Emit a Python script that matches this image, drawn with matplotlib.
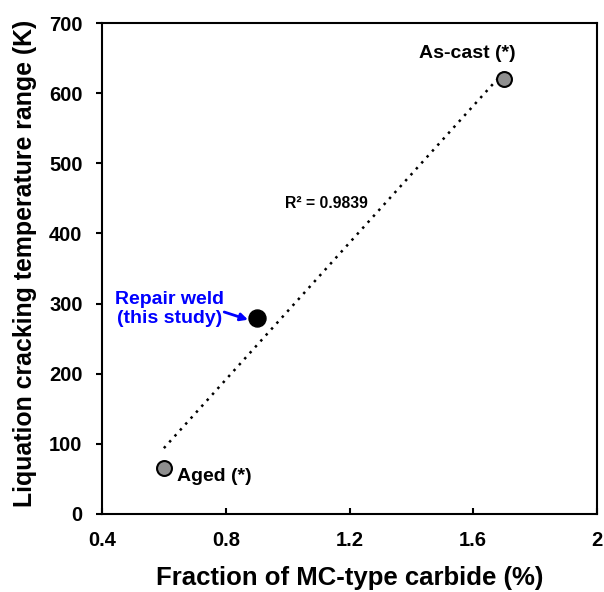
import numpy as np
import matplotlib
matplotlib.use("Agg")
import matplotlib.pyplot as plt

plt.rcParams['font.family'] = ['Liberation Sans', 'DejaVu Sans']

# data
ref_x = [0.6, 1.7]          # Aged, As-cast
ref_y = [65, 620]
ref_labels = ['Aged (*)', 'As-cast (*)']
weld_x = 0.9
weld_y = 280
xticks = [0.4, 0.8, 1.2, 1.6, 2.0]
xticklabels = ['0.4', '0.8', '1.2', '1.6', '2']
yticks = [0, 100, 200, 300, 400, 500, 600, 700]

all_x = np.array(ref_x + [weld_x])
all_y = np.array(ref_y + [weld_y])
slope, icpt = np.polyfit(all_x, all_y, 1)

fig = plt.figure(figsize=(6.04, 5.92), dpi=100)
ax = fig.add_axes([0.1689, 0.1318, 0.8195, 0.8292])

fx = np.array([min(ref_x), max(ref_x)])
ax.plot(fx, slope * fx + icpt, color='black', linestyle=(0, (1, 2.2)), lw=1.8, zorder=1)

ax.scatter(ref_x, ref_y, s=115, color='#8f8f8f', edgecolor='black', lw=1.5, zorder=3)
ax.scatter([weld_x], [weld_y], s=150, color='black', edgecolor='black', zorder=3)

ax.text(0.642, 53, ref_labels[0], fontsize=14, fontweight='bold', ha='left', va='center')
ax.text(1.58, 657, ref_labels[1], fontsize=14, fontweight='bold', ha='center', va='center')
ax.text(1.124, 443, 'R² = 0.9839', fontsize=11.3, fontweight='bold', ha='center', va='center')
ax.text(0.618, 292, 'Repair weld\n(this study)', fontsize=14, fontweight='bold',
        color='#0000ff', ha='center', va='center', linespacing=1.15)
ax.annotate('', xy=(0.872, 277), xytext=(0.795, 288),
            arrowprops=dict(arrowstyle='-|>', color='#0000ff', lw=2, mutation_scale=11,
                            shrinkA=0, shrinkB=0))

ax.set_xlim(0.4, 2.0)
ax.set_ylim(0, 700)
ax.set_xticks(xticks)
ax.set_xticklabels(xticklabels)
ax.set_yticks(yticks)
ax.tick_params(axis='x', direction='in', length=4, width=1.5, labelsize=14.5, pad=12.5)
ax.tick_params(axis='y', direction='out', length=4, width=1.5, labelsize=14.5, pad=10)
for lab in ax.get_xticklabels() + ax.get_yticklabels():
    lab.set_fontweight('bold')
for sp in ax.spines.values():
    sp.set_linewidth(1.5)

ax.set_xlabel('Fraction of MC-type carbide (%)', fontsize=18.5, fontweight='bold', labelpad=11)
ax.set_ylabel('Liquation cracking temperature range (K)', fontsize=17.9, fontweight='bold')
ax.yaxis.set_label_coords(-0.131, 0.51)

fig.savefig('out.png', dpi=100)
